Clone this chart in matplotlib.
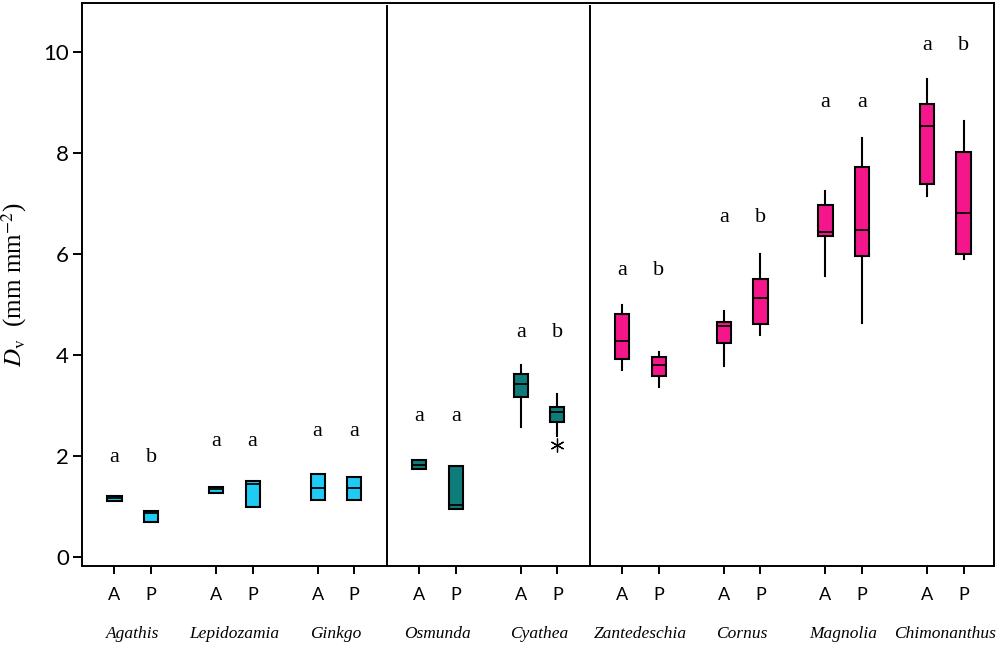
import matplotlib.pyplot as plt

plt.rcParams['mathtext.fontset'] = 'stix'

# genera and group colours
genera = ['Agathis', 'Lepidozamia', 'Ginkgo', 'Osmunda', 'Cyathea',
          'Zantedeschia', 'Cornus', 'Magnolia', 'Chimonanthus']
group_colors = ['#1ECBF5'] * 3 + ['#0E7C7B'] * 2 + ['#F5168C'] * 4

# box statistics for A then P of each genus
q1_A = [1.10, 1.27, 1.13, 1.75, 3.17, 3.91, 4.24, 6.36, 7.39]
med_A = [1.16, 1.34, 1.36, 1.83, 3.42, 4.28, 4.57, 6.44, 8.53]
q3_A = [1.20, 1.39, 1.65, 1.91, 3.62, 4.81, 4.66, 6.96, 8.97]
lo_A = [1.10, 1.27, 1.13, 1.75, 2.57, 3.70, 3.78, 5.57, 7.14]
hi_A = [1.20, 1.39, 1.65, 1.91, 3.80, 4.98, 4.87, 7.24, 9.47]

q1_P = [0.69, 0.98, 1.13, 0.94, 2.67, 3.58, 4.61, 5.96, 6.00]
med_P = [0.87, 1.44, 1.36, 1.02, 2.87, 3.81, 5.12, 6.48, 6.82]
q3_P = [0.91, 1.51, 1.58, 1.80, 2.97, 3.96, 5.50, 7.73, 8.02]
lo_P = [0.69, 0.98, 1.13, 0.94, 2.40, 3.37, 4.40, 4.63, 5.89]
hi_P = [0.91, 1.51, 1.58, 1.80, 3.22, 4.06, 6.00, 8.30, 8.63]
fliers_P = [[], [], [], [], [2.22], [], [], [], []]

# significance letters and their heights
letters_A = ['a'] * 9
letters_P = ['b', 'a', 'a', 'a', 'b', 'b', 'b', 'a', 'b']
letter_y = [1.96, 2.28, 2.48, 2.79, 4.44, 5.68, 6.73, 8.99, 10.12]

fig = plt.figure(figsize=(10, 6.47), dpi=100)
ax = fig.add_axes([0.082, 0.1252, 0.912, 0.8702])

off = 0.18
positions = []
stats = []
colors = []
for i in range(len(genera)):
    stats.append(dict(med=med_A[i], q1=q1_A[i], q3=q3_A[i],
                      whislo=lo_A[i], whishi=hi_A[i], fliers=[]))
    positions.append(i - off)
    colors.append(group_colors[i])
    stats.append(dict(med=med_P[i], q1=q1_P[i], q3=q3_P[i],
                      whislo=lo_P[i], whishi=hi_P[i], fliers=fliers_P[i]))
    positions.append(i + off)
    colors.append(group_colors[i])

bp = ax.bxp(stats, positions=positions, widths=0.14, patch_artist=True,
            showcaps=False,
            boxprops=dict(linewidth=1.5, edgecolor='black'),
            medianprops=dict(color='black', linewidth=1.3),
            whiskerprops=dict(color='black', linewidth=1.5),
            flierprops=dict(marker=(6, 2, 0), markersize=10,
                            markeredgecolor='black', markeredgewidth=0.9))
for patch, c in zip(bp['boxes'], colors):
    patch.set_facecolor(c)

for i in range(len(genera)):
    ax.text(i - off, letter_y[i], letters_A[i], ha='center', va='center',
            fontsize=16, family='Liberation Serif')
    ax.text(i + off, letter_y[i], letters_P[i], ha='center', va='center',
            fontsize=16, family='Liberation Serif')
    ax.text(i, -0.121, genera[i], transform=ax.get_xaxis_transform(),
            ha='center', va='center', fontsize=12.5, style='italic',
            family='Liberation Serif')

ax.axvline(2.5, color='black', linewidth=1.4, ymax=0.995)
ax.axvline(4.5, color='black', linewidth=1.4, ymax=0.995)

ax.set_xlim(-0.5, 8.48)
ax.set_ylim(-0.18, 10.97)
ax.set_xticks(positions)
ax.set_xticklabels(['A', 'P'] * len(genera), family='Lato', fontsize=13)
ax.set_yticks([0, 2, 4, 6, 8, 10])
ax.set_yticklabels(['0', '2', '4', '6', '8', '10'], family='Lato', fontsize=16)
ax.tick_params(axis='x', length=6, width=1.4, pad=9)
ax.tick_params(axis='y', length=6.5, width=1.4, pad=3)
for s in ax.spines.values():
    s.set_linewidth(1.4)

ax.set_ylabel(r'$D_{\mathrm{v}}$  (mm mm$^{-2}$)', fontsize=18,
              family='Liberation Serif', labelpad=10)

fig.savefig('out.png', dpi=100)
